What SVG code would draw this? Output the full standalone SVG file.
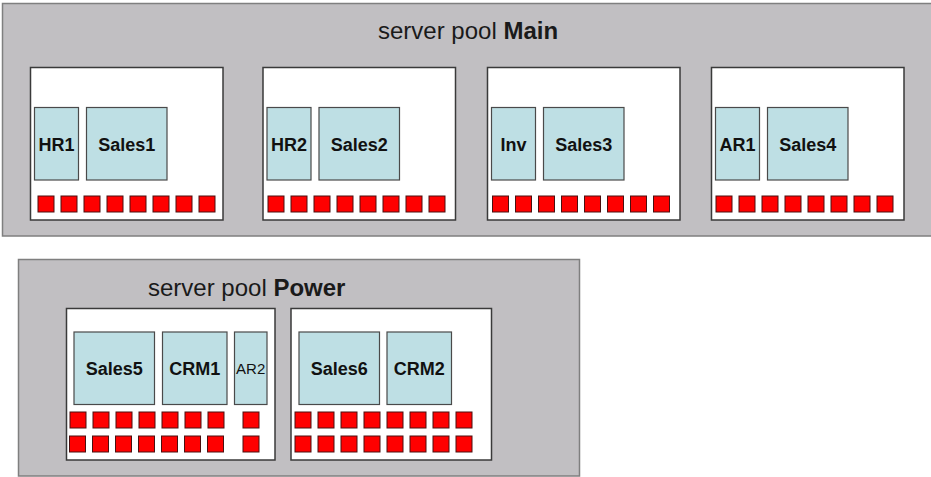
<svg xmlns="http://www.w3.org/2000/svg" width="931" height="477" viewBox="0 0 931 477">
<style>
.pool{fill:#C1BFC2;stroke:#7F7F7F;stroke-width:1.5}
.srv{fill:#FFFFFF;stroke:#3A3A3A;stroke-width:1.5}
.vm{fill:#BEDFE4;stroke:#4A4A4A;stroke-width:1.2}
.cpu{fill:#FF0000;stroke:#4A1010;stroke-width:1}
.title{font-family:"Liberation Sans",Arial,sans-serif;font-size:24px;fill:#1A1A1A}
.lbl{font-family:"Liberation Sans",Arial,sans-serif;font-size:18px;font-weight:bold;fill:#111;text-anchor:middle}
.lbls{font-family:"Liberation Sans",Arial,sans-serif;font-size:15px;fill:#111;text-anchor:middle}
</style>
<defs>
<g id="row8">
<rect class="cpu" x="0" y="0" width="16" height="16"/>
<rect class="cpu" x="23" y="0" width="16" height="16"/>
<rect class="cpu" x="46" y="0" width="16" height="16"/>
<rect class="cpu" x="69" y="0" width="16" height="16"/>
<rect class="cpu" x="92" y="0" width="16" height="16"/>
<rect class="cpu" x="115" y="0" width="16" height="16"/>
<rect class="cpu" x="138" y="0" width="16" height="16"/>
<rect class="cpu" x="161" y="0" width="16" height="16"/>
</g>
<g id="row7">
<rect class="cpu" x="0" y="0" width="16" height="16"/>
<rect class="cpu" x="23" y="0" width="16" height="16"/>
<rect class="cpu" x="46" y="0" width="16" height="16"/>
<rect class="cpu" x="69" y="0" width="16" height="16"/>
<rect class="cpu" x="92" y="0" width="16" height="16"/>
<rect class="cpu" x="115" y="0" width="16" height="16"/>
<rect class="cpu" x="138" y="0" width="16" height="16"/>
</g>
</defs>

<g id="pool-main">
<rect class="pool" x="2.5" y="3.5" width="935" height="232.5"/>
<text class="title" x="378" y="39">server pool <tspan font-weight="bold">Main</tspan></text>
</g>

<g id="server1">
<rect class="srv" x="30.5" y="67.5" width="192.5" height="152.5"/>
<rect class="vm" x="34.5" y="107.5" width="44" height="72.5"/>
<text class="lbl" x="56.5" y="151">HR1</text>
<rect class="vm" x="86.5" y="107.5" width="80.5" height="72.5"/>
<text class="lbl" x="126.7" y="151">Sales1</text>
<use href="#row8" x="38" y="196"/>
</g>

<g id="server2">
<rect class="srv" x="263" y="67.5" width="192.5" height="152.5"/>
<rect class="vm" x="267" y="107.5" width="44" height="72.5"/>
<text class="lbl" x="289" y="151">HR2</text>
<rect class="vm" x="319" y="107.5" width="80.5" height="72.5"/>
<text class="lbl" x="359.2" y="151">Sales2</text>
<use href="#row8" x="268" y="196"/>
</g>

<g id="server3">
<rect class="srv" x="487.5" y="67.5" width="192.5" height="152.5"/>
<rect class="vm" x="491.5" y="107.5" width="44" height="72.5"/>
<text class="lbl" x="513.5" y="151">Inv</text>
<rect class="vm" x="543.5" y="107.5" width="80.5" height="72.5"/>
<text class="lbl" x="583.7" y="151">Sales3</text>
<use href="#row8" x="492.5" y="196"/>
</g>

<g id="server4">
<rect class="srv" x="711.5" y="67.5" width="192.5" height="152.5"/>
<rect class="vm" x="715.5" y="107.5" width="44" height="72.5"/>
<text class="lbl" x="737.5" y="151">AR1</text>
<rect class="vm" x="767.5" y="107.5" width="80.5" height="72.5"/>
<text class="lbl" x="807.7" y="151">Sales4</text>
<use href="#row8" x="716" y="196"/>
</g>

<g id="pool-power">
<rect class="pool" x="18.5" y="259.5" width="561" height="216.5"/>
<text class="title" x="148" y="295.5">server pool <tspan font-weight="bold">Power</tspan></text>
</g>

<g id="server5">
<rect class="srv" x="66.5" y="308.5" width="208.5" height="151.5"/>
<rect class="vm" x="74" y="332" width="80.5" height="72.5"/>
<text class="lbl" x="114.2" y="375">Sales5</text>
<rect class="vm" x="162.5" y="332" width="64.5" height="72.5"/>
<text class="lbl" x="194.7" y="375">CRM1</text>
<rect class="vm" x="234.5" y="332" width="32.5" height="72.5"/>
<text class="lbls" x="250.7" y="374">AR2</text>
<use href="#row7" x="70" y="412"/>
<rect class="cpu" x="243" y="412" width="16" height="16"/>
<use href="#row7" x="69.5" y="436"/>
<rect class="cpu" x="243" y="436" width="16" height="16"/>
</g>

<g id="server6">
<rect class="srv" x="291" y="308.5" width="200.5" height="151.5"/>
<rect class="vm" x="299" y="332" width="80.5" height="72.5"/>
<text class="lbl" x="339.2" y="375">Sales6</text>
<rect class="vm" x="387" y="332" width="64.5" height="72.5"/>
<text class="lbl" x="419.2" y="375">CRM2</text>
<use href="#row8" x="295" y="412"/>
<use href="#row8" x="295" y="436"/>
</g>

<g id="connectors"/>
</svg>
